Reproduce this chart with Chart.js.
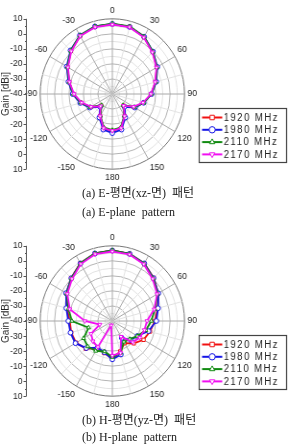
<!DOCTYPE html>
<html>
<head>
<meta charset="utf-8">
<script src="https://cdn.jsdelivr.net/npm/chart.js@4.4.1/dist/chart.umd.min.js"></script>
<style>
  html, body { margin: 0; padding: 0; background: #fff; }
  body { width: 289px; height: 447px; position: relative; overflow: hidden; }
  .plot { position: absolute; left: 0; width: 300px; height: 190px; transform: scaleX(0.96); transform-origin: 0 0; }
  .plot canvas { display: block; }
  .cap { position: absolute; left: 82px; font-family: 'Liberation Serif', 'Noto Sans CJK KR', serif; font-size: 12px; line-height: 14px; color: #222; white-space: pre; }
</style>
</head>
<body>
<div class="plot" style="top:0"><canvas id="chartE" width="300" height="190"></canvas></div>
<div class="cap" style="top:186px">(a) E-평면(xz-면)  패턴</div>
<div class="cap" style="top:205px">(a) E-plane  pattern</div>
<div class="plot" style="top:227px"><canvas id="chartH" width="300" height="190"></canvas></div>
<div class="cap" style="top:413px">(b) H-평면(yz-면)  패턴</div>
<div class="cap" style="top:430px">(b) H-plane  pattern</div>

<script>
/* data: angle in degrees, clockwise from top, gain in dBi */

const angles = [0, 15, 30, 45, 60, 75, 90, 105, 120, 135, 150, 165,
                180, 195, 210, 225, 240, 255, 270, 285, 300, 315, 330, 345];
const seriesNames = ['1920 MHz', '1980 MHz', '2110 MHz', '2170 MHz'];
const gainTicks = [10, 0, -10, -20, -30, -40, -30, -20, -10, 0, 10];

// E-plane (xz)
const e1920 = [6.5, 6.3, 3.8, -0.5, -4.5, -9, -13, -17.5, -22.5, -29, -23, -16.5,
               -15.5, -16.5, -23, -29, -22.5, -17.5, -13, -9, -4.2, 0.5, 4.6, 6.4];
const e1980 = [6.6, 6.2, 4, -0.2, -4, -8.5, -12.8, -17.5, -22, -28, -22, -15.5,
               -14, -15.5, -22, -28, -22, -17, -12.5, -8.5, -3.5, 1, 5, 6.5];
const e2110 = [6.8, 6.5, 4, -0.3, -4.3, -8.8, -13, -17.5, -22.5, -29.5, -23.5, -17,
               -16, -17, -23.5, -29.5, -22.5, -17.5, -13, -9, -4, 0.7, 5, 6.6];
const e2170 = [6.2, 6, 3.5, -0.8, -4.7, -9.3, -13.3, -18, -23, -29, -23, -16.5,
               -15.5, -16.5, -23, -28.5, -23, -18, -13.5, -9.3, -4.5, 0.2, 4.5, 6];

// H-plane (yz)
const h1920 = [7, 6.3, 4.3, 0.5, -3.3, -7.5, -10.5, -13, -15, -19, -23, -19,
               -15, -18, -19, -14, -11, -10.5, -10.5, -7.5, -3.2, 0.4, 4.4, 6.6];
const h1980 = [6.8, 6.2, 4.2, 0.3, -3.2, -7.2, -9.5, -14, -20, -22, -27, -17,
               -14.5, -18.5, -19.5, -14.5, -10.5, -10, -9.5, -7, -3, 0.2, 4.2, 6.5];
const h2110 = [7, 6.2, 4, 0, -3.8, -9.5, -13, -16, -20, -23, -24, -18,
               -16, -19, -17, -16, -17, -23, -12, -8.5, -3.5, 0, 4.2, 6.6];
const h2170 = [6.2, 5.8, 3.6, -0.5, -4.2, -10, -16, -17, -18, -20, -28, -18,
               -17, -37, -20, -21, -23, -31, -21, -9.5, -4, -0.5, 3.7, 6];

const seriesColors = ['#f01010', '#1414e6', '#108a10', '#f010f0'];
const seriesMarkers = ['rect', 'circle', 'triangle', 'triangle'];
const markerRotation = [0, 0, 0, 180];

const FONT = '"Liberation Sans", Arial, sans-serif';

/* left gain axis, mirrored around the centre */
const gainAxis = {
  id: 'gainAxis',
  afterDraw(chart) {
    const r = chart.scales.r;
    const ctx = chart.ctx;
    const x = 27.5;
    const posOf = (v, i) => {
      const d = r.getDistanceFromCenterForValue(v);
      return i < 5 ? r.yCenter - d : (i > 5 ? r.yCenter + d : r.yCenter);
    };
    const ys = gainTicks.map(posOf);
    ctx.save();
    ctx.strokeStyle = '#555';
    ctx.lineWidth = 1;
    ctx.beginPath();
    ctx.moveTo(x, ys[0]);
    ctx.lineTo(x, ys[ys.length - 1]);
    ctx.stroke();
    ctx.font = '9px ' + FONT;
    ctx.fillStyle = '#222';
    ctx.textAlign = 'right';
    ctx.textBaseline = 'middle';
    ys.forEach((y, i) => {
      ctx.beginPath();
      ctx.moveTo(x - 3, Math.round(y) + 0.5);
      ctx.lineTo(x, Math.round(y) + 0.5);
      ctx.stroke();
      ctx.fillText(String(gainTicks[i]), x - 4, y);
      if (i < ys.length - 1) {
        const ym = Math.round((y + ys[i + 1]) / 2) + 0.5;
        ctx.beginPath();
        ctx.moveTo(x - 1.5, ym);
        ctx.lineTo(x, ym);
        ctx.stroke();
      }
    });
    ctx.translate(6, r.yCenter);
    ctx.rotate(-Math.PI / 2);
    ctx.textAlign = 'center';
    ctx.font = '10px ' + FONT;
    ctx.fillText('Gain [dBi]', 0, 0);
    ctx.restore();
  }
};

/* boxed legend at lower right */
const boxLegend = {
  id: 'boxLegend',
  afterDraw(chart) {
    const ctx = chart.ctx;
    const x0 = 207.5, y0 = 108.5, w = 91, h = 54;
    ctx.save();
    ctx.strokeStyle = '#444';
    ctx.lineWidth = 1.2;
    ctx.strokeRect(x0, y0, w, h);
    ctx.font = '10px ' + FONT;
    if ('letterSpacing' in ctx) ctx.letterSpacing = '1.5px';
    ctx.textBaseline = 'middle';
    chart.data.datasets.forEach((ds, i) => {
      const y = y0 + 9 + i * 12.3;
      ctx.strokeStyle = ds.borderColor;
      ctx.lineWidth = 2;
      ctx.beginPath();
      ctx.moveTo(x0 + 3, y);
      ctx.lineTo(x0 + 24, y);
      ctx.stroke();
      ctx.fillStyle = '#fff';
      ctx.lineWidth = 1;
      Chart.helpers.drawPoint(ctx, {
        pointStyle: ds.pointStyle, rotation: ds.pointRotation, radius: 3.2, borderWidth: 1
      }, x0 + 13.5, y);
      ctx.fillStyle = '#222';
      ctx.fillText(ds.label, x0 + 25.5, y + 0.5);
    });
    ctx.restore();
  }
};

function makeChart(id, seriesValues) {
  return new Chart(document.getElementById(id), {
    type: 'radar',
    data: {
      labels: angles,
      datasets: seriesNames.map((name, i) => ({
        label: name,
        data: seriesValues[i],
        fill: false,
        borderColor: seriesColors[i],
        borderWidth: 1.8,
        pointStyle: seriesMarkers[i],
        pointRotation: markerRotation[i],
        pointRadius: 2.4,
        pointBorderWidth: 1,
        pointBorderColor: seriesColors[i],
        pointBackgroundColor: '#fff',
        order: 4 - i
      }))
    },
    options: {
      responsive: false,
      animation: false,
      devicePixelRatio: 1,
      layout: { padding: { left: 22, top: 6, right: 90, bottom: 6 } },
      plugins: { legend: { display: false }, tooltip: { enabled: false } },
      scales: {
        r: {
          min: -40,
          max: 10,
          ticks: { display: false, stepSize: 5 },
          grid: {
            circular: true,
            color: c => c.tick.value === 10 ? '#777' : (c.tick.value % 10 === 0 ? '#b4b4b4' : '#e2e2e2')
          },
          angleLines: {
            color: c => c.index % 2 === 0 ? '#a8a8a8' : '#e2e2e2'
          },
          pointLabels: {
            padding: 3,
            color: '#222',
            font: { size: 9, family: FONT },
            callback: a => a % 30 === 0 ? String(a > 180 ? a - 360 : a) : ''
          }
        }
      }
    },
    plugins: [gainAxis, boxLegend]
  });
}

makeChart('chartE', [e1920, e1980, e2110, e2170]);
makeChart('chartH', [h1920, h1980, h2110, h2170]);
</script>
</body>
</html>
